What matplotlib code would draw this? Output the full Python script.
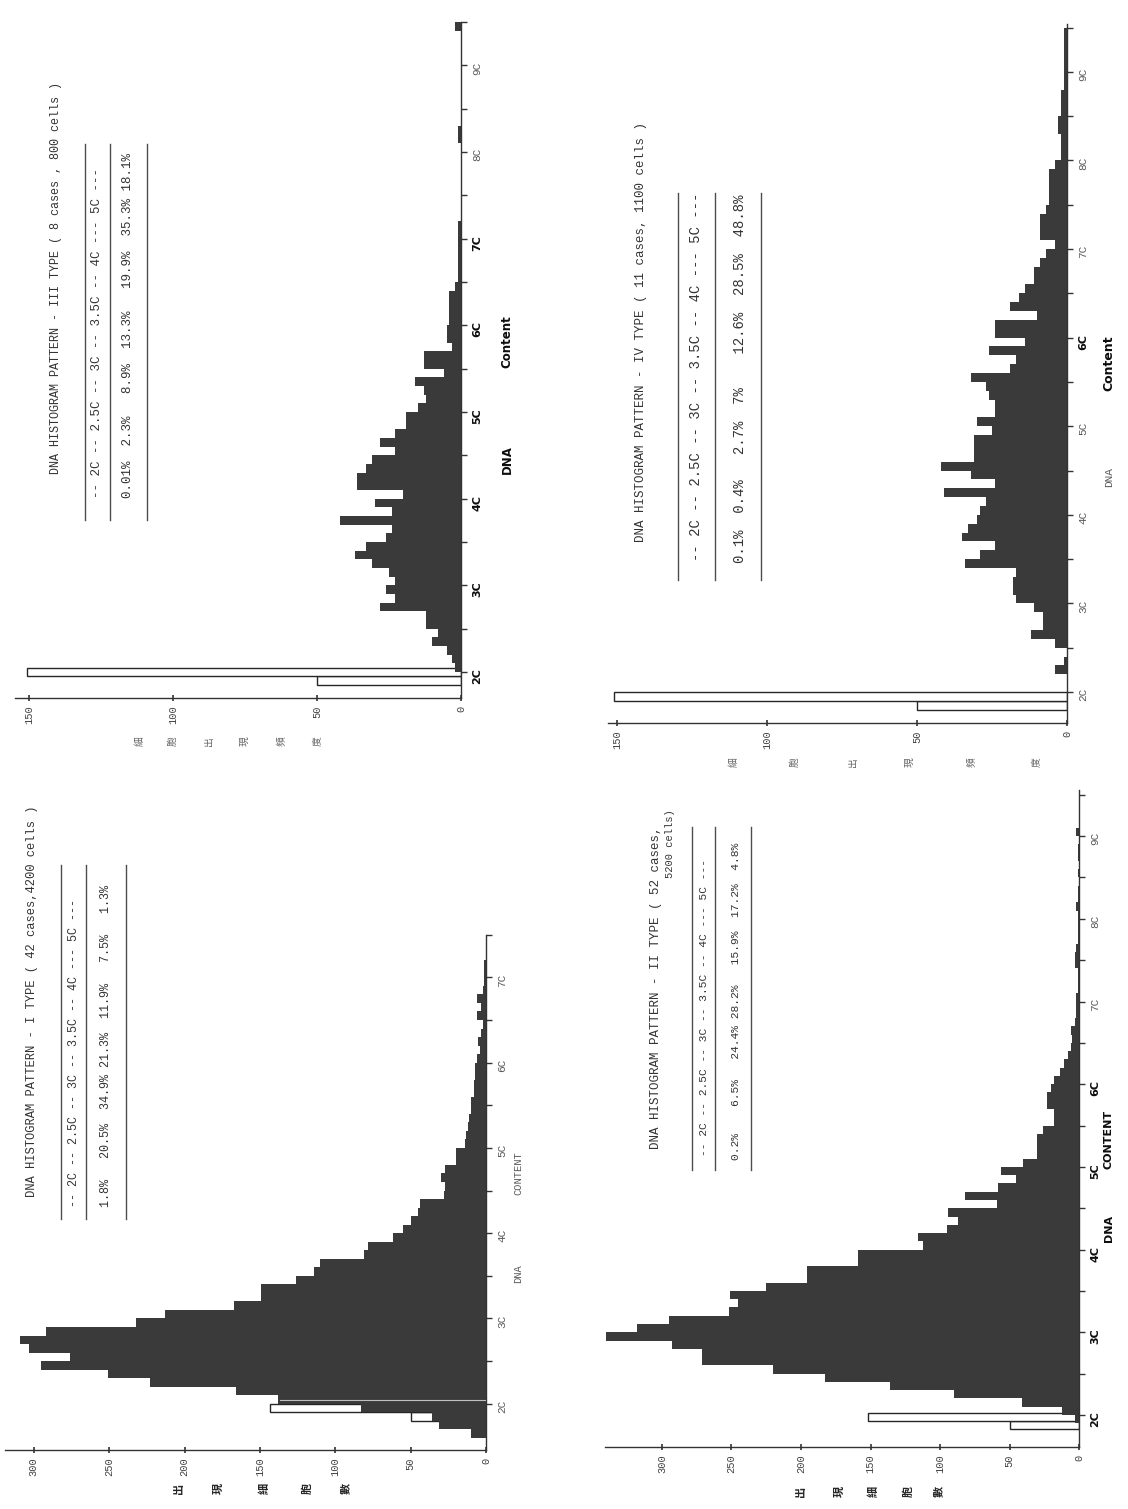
import numpy as np
import matplotlib
matplotlib.use("Agg")
import matplotlib.pyplot as plt
from matplotlib.lines import Line2D

W, H = 1128, 1509
DPI = 100
DARK = "#3a3a3a"
MONO = "Liberation Mono"
CJK = ["Noto Sans CJK TC", "DejaVu Sans"]

# --------------------------------------------------
# Data: cells per 0.1C DNA bin (filled) and control 2C peak (open)
# --------------------------------------------------

type1_start = 1.6
type1_counts = [10, 31, 36, 83, 138, 166, 223, 251, 295, 276,
                303, 309, 292, 232, 213, 167, 149, 149, 126, 114,
                110, 81, 78, 62, 55, 50, 45, 44, 28, 27,
                30, 27, 20, 20, 14, 13, 12, 11, 10, 10,
                8, 8, 7, 7, 6, 4, 5, 3, 2, 6,
                3, 6, 2, 1, 1, 1]
type1_ref_start = [1.8, 1.9]
type1_ref_counts = [50, 143]
# pale gap line left through the type I bars just above 2C
type1_gap_dna = 2.04
type1_gap_count = 137

type2_start = 1.8
type2_counts = [0, 3, 12, 41, 90, 136, 183, 220, 271, 271,
                293, 340, 318, 295, 252, 245, 251, 225, 196, 196,
                159, 159, 112, 116, 95, 87, 94, 59, 82, 58,
                45, 56, 40, 30, 30, 30, 26, 18, 18, 23,
                23, 20, 18, 14, 11, 8, 6, 5, 6, 3,
                2, 2, 2, 1, 1, 1, 3, 3, 2, 1,
                1, 1, 1, 2, 1, 1, 0, 1, 0, 1,
                1, 0, 2]
type2_ref_start = [1.83, 1.93]
type2_ref_counts = [50, 152]

type3_start = 2.0
type3_counts = [2, 3, 5, 10, 8, 12, 12, 28, 23, 26,
                23, 25, 31, 37, 33, 26, 24, 42, 24, 30,
                20, 36, 36, 33, 31, 23, 28, 23, 19, 19,
                15, 12, 13, 16, 6, 13, 13, 3, 5, 5,
                4, 4, 4, 4, 2, 1, 1, 1, 1, 1,
                1, 1, 0, 0, 0, 0, 0, 0, 0, 0,
                0, 1, 1, 0, 0, 0, 0, 0, 0, 0,
                0, 0, 0, 0, 2]
type3_ref_start = [1.85, 1.95]
type3_ref_counts = [50, 151]

type4_start = 2.0
type4_counts = [0, 0, 4, 1, 0, 4, 12, 8, 8, 11,
                17, 18, 18, 17, 34, 29, 24, 35, 33, 30,
                29, 27, 41, 24, 32, 42, 31, 31, 31, 25,
                30, 24, 24, 26, 27, 32, 19, 17, 26, 14,
                24, 24, 10, 19, 16, 14, 11, 11, 9, 7,
                4, 9, 9, 9, 7, 6, 6, 6, 6, 4,
                2, 2, 2, 3, 3, 2, 2, 2, 1, 1,
                1, 1, 1, 1, 1]
type4_ref_start = [1.8, 1.9]
type4_ref_counts = [50, 151]

titles = {
    "I": "DNA HISTOGRAM PATTERN - I TYPE ( 42 cases,4200 cells )",
    "II": "DNA HISTOGRAM PATTERN - II TYPE ( 52 cases,",
    "III": "DNA HISTOGRAM PATTERN - III TYPE ( 8 cases , 800 cells )",
    "IV": "DNA HISTOGRAM PATTERN - IV TYPE ( 11 cases, 1100 cells )",
}
title2_tail = "5200 cells)"
row_head = "-- 2C -- 2.5C -- 3C -- 3.5C -- 4C --- 5C ---"
rows = {
    "I": "1.8%   20.5%  34.9% 21.3%  11.9%   7.5%   1.3%",
    "II": "0.2%    6.5%   24.4% 28.2%   15.9%  17.2%  4.8%",
    "III": "0.01%  2.3%   8.9%  13.3%   19.9%  35.3% 18.1%",
    "IV": "0.1%  0.4%   2.7%  7%    12.6%  28.5%  48.8%",
}
ylabel_a = ["出", "現", "細", "胞", "數"]
ylabel_b = ["細", "胞", "出", "現", "頻", "度"]

# --------------------------------------------------
# Panel geometry (pixels on the page)
# --------------------------------------------------

geo = {
    "I": dict(x0=486, ppc=1.507, cmax=319, y_axis=1450, y2c=1402, pc=88.5, top=7.28,
              cticks=[0, 50, 100, 150, 200, 250, 300], dmax=7),
    "II": dict(x0=1079, ppc=1.39, cmax=341, y_axis=1447, y2c=1415, pc=82.7, top=9.56,
               cticks=[0, 50, 100, 150, 200, 250, 300], dmax=9),
    "III": dict(x0=461, ppc=2.877, cmax=155, y_axis=698, y2c=672, pc=87.0, top=9.47,
                cticks=[0, 50, 100, 150], dmax=9),
    "IV": dict(x0=1067, ppc=3.0, cmax=153, y_axis=723, y2c=692, pc=88.6, top=9.54,
               cticks=[0, 50, 100, 150], dmax=9),
}

fig = plt.figure(figsize=(W / DPI, H / DPI), dpi=DPI)
fig.patch.set_facecolor("white")


def vtext(x, y, s, size, family=MONO, weight="normal", va="bottom", color="0.2"):
    fig.text(x / W, 1 - y / H, s, rotation=90, ha="center", va=va,
             fontsize=size, family=family, fontweight=weight, color=color)


def vline(x, y1, y2, color="0.3", lw=1.0):
    fig.add_artist(Line2D([x / W, x / W], [1 - y1 / H, 1 - y2 / H],
                          color=color, lw=lw, transform=fig.transFigure))


def draw_panel(key, start, counts, ref_start, ref_counts, bold_labels):
    g = geo[key]
    left = g["x0"] - g["cmax"] * g["ppc"]
    top_px = g["y2c"] - (g["top"] - 2) * g["pc"]
    dna_min = 2 - (g["y_axis"] - g["y2c"]) / g["pc"]
    ax = fig.add_axes([left / W, 1 - g["y_axis"] / H,
                       (g["x0"] - left) / W, (g["y_axis"] - top_px) / H])
    ax.set_xlim(g["cmax"], 0)
    ax.set_ylim(dna_min, g["top"])
    ax.patch.set_alpha(0)

    # control peak drawn as open bars underneath
    ax.barh(ref_start, ref_counts, height=0.1, align="edge", left=0,
            facecolor="white", edgecolor="0.15", linewidth=1.0, zorder=1)
    bins = start + 0.1 * np.arange(len(counts))
    ax.barh(bins, counts, height=0.1, align="edge", left=0,
            color=DARK, edgecolor="none", zorder=2)

    for side in ("top", "left"):
        ax.spines[side].set_visible(False)
    for side in ("bottom", "right"):
        ax.spines[side].set_color("0.2")
        ax.spines[side].set_linewidth(1.0)

    ax.set_xticks(g["cticks"])
    ax.set_xticklabels([str(c) for c in g["cticks"]], family=MONO,
                       fontsize=7.5, color="0.25")
    ax.tick_params(axis="x", direction="inout", length=5, width=1.2,
                   labelrotation=90, pad=3, color="0.2")

    ax.yaxis.tick_right()
    majors = list(range(2, g["dmax"] + 1))
    ax.set_yticks(majors)
    ax.set_yticks([m + 0.5 for m in majors], minor=True)
    ax.set_yticklabels([f"{m}C" for m in majors], fontsize=8)
    ax.tick_params(axis="y", which="both", direction="out", length=4, width=1.0,
                   labelrotation=90, pad=4, color="0.2")
    for lab, m in zip(ax.get_yticklabels(), majors):
        if m in bold_labels:
            lab.set_fontweight("bold")
            lab.set_color("0.05")
        else:
            lab.set_family(MONO)
            lab.set_color("0.35")
    return ax


ax1 = draw_panel("I", type1_start, type1_counts, type1_ref_start, type1_ref_counts, [])
ax1.plot([0, type1_gap_count], [type1_gap_dna, type1_gap_dna], color="0.75", lw=0.8, zorder=3)
draw_panel("II", type2_start, type2_counts, type2_ref_start, type2_ref_counts, [2, 3, 4, 5, 6])
draw_panel("III", type3_start, type3_counts, type3_ref_start, type3_ref_counts, [2, 3, 4, 5, 6, 7])
draw_panel("IV", type4_start, type4_counts, type4_ref_start, type4_ref_counts, [6])

# --------------------------------------------------
# Titles, summary tables and axis words
# --------------------------------------------------

# type I
vtext(32, 1197, titles["I"], 8.7)
vline(61, 1219, 865)
vline(86, 1219, 865)
vline(126, 1219, 865)
vtext(74, 1207, row_head, 8.5)
vtext(106, 1207, rows["I"], 8.5)
vtext(518, 1274, "DNA", 7.5, va="center", color="0.35")
vtext(518, 1173, "CONTENT", 7.5, va="center", color="0.35")
for x, ch in zip([179, 218, 264, 307, 345], ylabel_a):
    vtext(x, 1488, ch, 8, family=CJK, weight="bold", va="center", color="0.15")

# type II, title wraps onto a short second line
vtext(656, 1149, titles["II"], 9.0)
vtext(670, 809, title2_tail, 7.5, va="top")
vline(692, 1170, 827)
vline(715, 1170, 827)
vline(751, 1170, 827)
vtext(704, 1156, row_head, 8.1)
vtext(736, 1160, rows["II"], 8.1)
vtext(1109, 1228, "DNA", 8, family="DejaVu Sans", weight="bold", va="center", color="0.05")
vtext(1109, 1139, "CONTENT", 8, family="DejaVu Sans", weight="bold", va="center", color="0.05")
for x, ch in zip([800, 839, 873, 908, 938], ylabel_a):
    vtext(x, 1491, ch, 8, family=CJK, weight="bold", va="center", color="0.15")

# type III
vtext(56, 474, titles["III"], 8.5)
vline(85, 520, 144)
vline(110, 520, 144)
vline(147, 520, 144)
vtext(97, 498, row_head, 9.0)
vtext(128, 498, rows["III"], 9.0)
vtext(507, 460, "DNA", 8.5, family="DejaVu Sans", weight="bold", va="center", color="0.05")
vtext(507, 342, "Content", 8.5, family="DejaVu Sans", weight="bold", va="center", color="0.05")
for x, ch in zip([140, 173, 209, 245, 281, 317], ylabel_b):
    vtext(x, 741, ch, 7, family=CJK, va="center", color="0.4")

# type IV
vtext(641, 542, titles["IV"], 9.0)
vline(678, 580, 193)
vline(715, 580, 193)
vline(761, 580, 193)
vtext(696, 561, row_head, 10.0)
vtext(740, 563, rows["IV"], 10.0)
vtext(1109, 477, "DNA", 8, va="center", color="0.35")
vtext(1109, 363, "Content", 9, family="DejaVu Sans", weight="bold", va="center", color="0.05")
for x, ch in zip([734, 795, 853, 910, 971, 1036], ylabel_b):
    vtext(x, 762, ch, 7, family=CJK, va="center", color="0.4")

fig.savefig("out.png", dpi=DPI, facecolor="white")
plt.close(fig)
